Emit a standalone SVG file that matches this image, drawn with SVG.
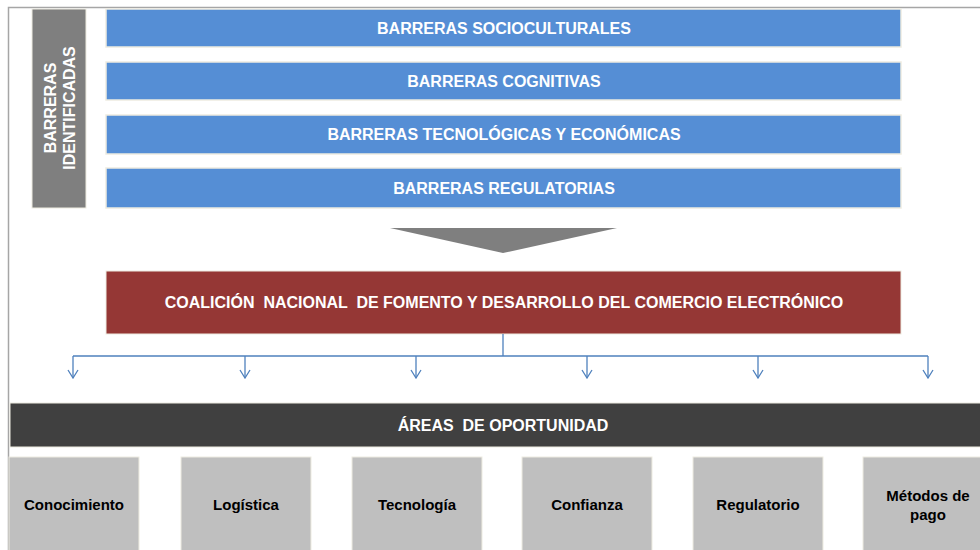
<svg xmlns="http://www.w3.org/2000/svg" width="980" height="550" viewBox="0 0 980 550">
<style>
text{font-family:"Liberation Sans",Arial,sans-serif;font-weight:bold;text-anchor:middle}
.w{fill:#fff;font-size:16px}
.b{fill:#000;font-size:15px}
.bar{fill:#558ed5;stroke:#eeece1;stroke-width:1.5}
.area{fill:#bfbfbf;stroke:#eeece1;stroke-width:1}
.conn{fill:none;stroke:#4f81bd;stroke-width:1.3}
</style>
<defs>
<marker id="arr" markerWidth="10" markerHeight="12" refX="9" refY="6" orient="auto" markerUnits="userSpaceOnUse" viewBox="0 0 10 12">
<path d="M1,1 L9,6 L1,11" fill="none" stroke="#4f81bd" stroke-width="1.3"/>
</marker>
</defs>
<rect width="980" height="550" fill="#fff"/>
<path d="M8.5,550 V7.5 H980" fill="none" stroke="#a6a6a6" stroke-width="1.5"/>
<g id="barreras-identificadas">
<rect x="32" y="9" width="54" height="199" fill="#7f7f7f" stroke="#eeece1" stroke-width="1"/>
<text class="w" transform="translate(56,108) rotate(-90)">BARRERAS</text>
<text class="w" transform="translate(75,108) rotate(-90)">IDENTIFICADAS</text>
</g>
<g id="socioculturales">
<rect class="bar" x="106" y="9" width="795" height="38"/>
<text class="w" x="504" y="34">BARRERAS SOCIOCULTURALES</text>
</g>
<g id="cognitivas">
<rect class="bar" x="106" y="62" width="795" height="38"/>
<text class="w" x="504" y="87">BARRERAS COGNITIVAS</text>
</g>
<g id="tecnologicas">
<rect class="bar" x="106" y="115" width="795" height="39"/>
<text class="w" x="504" y="140">BARRERAS TECNOLÓGICAS Y ECONÓMICAS</text>
</g>
<g id="regulatorias">
<rect class="bar" x="106" y="168" width="795" height="40"/>
<text class="w" x="504" y="194">BARRERAS REGULATORIAS</text>
</g>
<g id="flecha">
<polygon points="390,228 617,228 503,253" fill="#7f7f7f"/>
</g>
<g id="coalicion">
<rect x="106" y="271" width="795" height="63" fill="#953735" stroke="#eeece1" stroke-width="1"/>
<text class="w" x="504" y="308" xml:space="preserve">COALICIÓN  NACIONAL  DE FOMENTO Y DESARROLLO DEL COMERCIO ELECTRÓNICO</text>
</g>
<g id="connectors">
<path class="conn" d="M503,334 V356 M73,356 H928"/>
<path class="conn" d="M73,356 V378" marker-end="url(#arr)"/>
<path class="conn" d="M245,356 V378" marker-end="url(#arr)"/>
<path class="conn" d="M416,356 V378" marker-end="url(#arr)"/>
<path class="conn" d="M587,356 V378" marker-end="url(#arr)"/>
<path class="conn" d="M758,356 V378" marker-end="url(#arr)"/>
<path class="conn" d="M928,356 V378" marker-end="url(#arr)"/>
</g>
<g id="areas">
<rect x="10" y="403" width="972" height="44" fill="#404040" stroke="#eeece1" stroke-width="1"/>
<text class="w" x="503" y="431" xml:space="preserve">ÁREAS  DE OPORTUNIDAD</text>
</g>
<g id="conocimiento">
<rect class="area" x="9" y="457" width="130" height="95"/>
<text class="b" x="74" y="510">Conocimiento</text>
</g>
<g id="logistica">
<rect class="area" x="181" y="457" width="130" height="95"/>
<text class="b" x="246" y="510">Logística</text>
</g>
<g id="tecnologia">
<rect class="area" x="352" y="457" width="130" height="95"/>
<text class="b" x="417" y="510">Tecnología</text>
</g>
<g id="confianza">
<rect class="area" x="522" y="457" width="130" height="95"/>
<text class="b" x="587" y="510">Confianza</text>
</g>
<g id="regulatorio">
<rect class="area" x="693" y="457" width="130" height="95"/>
<text class="b" x="758" y="510">Regulatorio</text>
</g>
<g id="metodos">
<rect class="area" x="863" y="457" width="130" height="95"/>
<text class="b" x="928" y="501">Métodos de</text>
<text class="b" x="928" y="520">pago</text>
</g>
</svg>
